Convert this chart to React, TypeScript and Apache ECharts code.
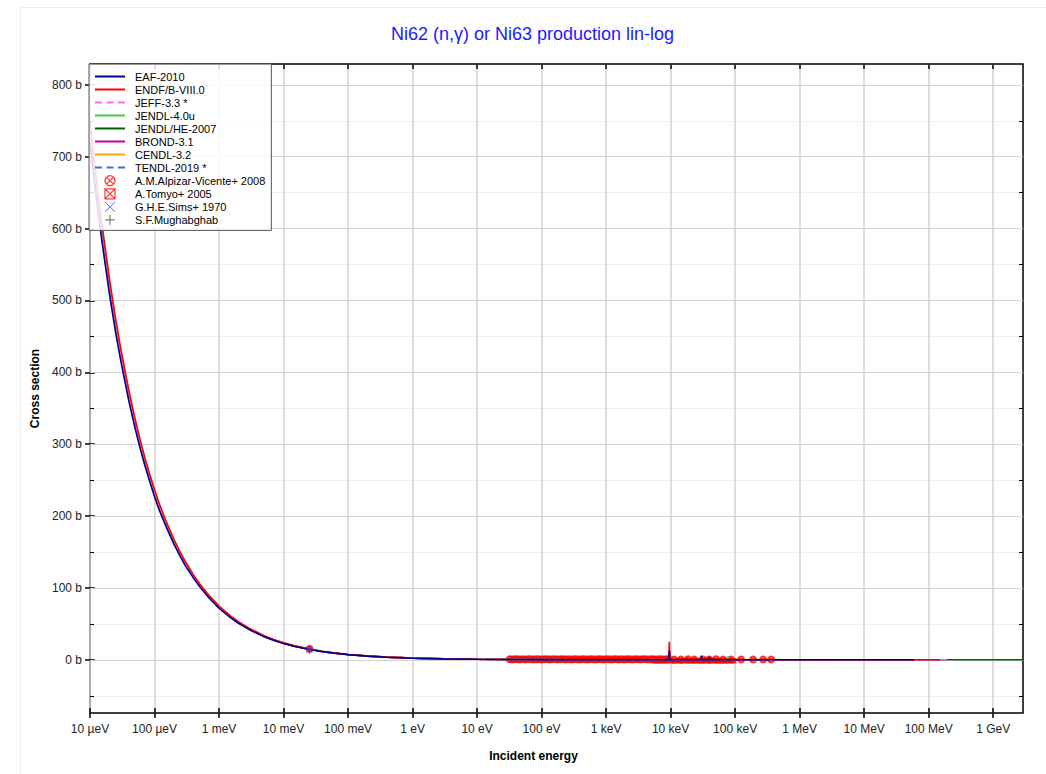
import React, { useEffect, useRef } from "react";
import * as echarts from "echarts";

const FONT = "'Liberation Sans', Arial, Helvetica, sans-serif";

// Axes
const X_MIN = 1e-5;
const X_MAX = 2.9e9;
const Y_MIN = -74;
const Y_MAX = 829;
const X_TICKS = [1e-5, 1e-4, 1e-3, 1e-2, 1e-1, 1, 10, 100, 1e3, 1e4, 1e5, 1e6, 1e7, 1e8, 1e9];
const X_TICK_LABELS = ["10 µeV", "100 µeV", "1 meV", "10 meV", "100 meV", "1 eV", "10 eV", "100 eV", "1 keV", "10 keV", "100 keV", "1 MeV", "10 MeV", "100 MeV", "1 GeV"];
const Y_TICKS = [0, 100, 200, 300, 400, 500, 600, 700, 800];
const Y_MINOR = [-50, 50, 150, 250, 350, 450, 550, 650, 750];

// Evaluated curves: low-energy part (shared energy grid, eV)
const LOW_E = [1e-5, 1.2e-5, 1.5e-5, 2e-5, 2.5e-5, 3e-5, 4e-5, 5e-5, 6e-5, 7e-5, 8.5e-5, 1e-4, 1.2e-4, 1.5e-4, 2e-4, 2.5e-4, 3e-4, 4e-4, 5e-4, 7e-4, 1e-3, 1.5e-3, 2e-3, 3e-3, 5e-3, 7e-3, 1e-2, 1.5e-2, 2.53e-2, 4e-2, 6e-2, 0.1, 0.2, 0.4, 1, 3, 10, 30, 100, 300, 1000, 3000];
const EAF_LOW = [719, 657, 588, 509, 455, 416, 360, 322, 294, 272, 247, 227, 207, 186, 161, 144, 131, 114, 102, 86, 72, 58.8, 50.9, 41.6, 32.2, 27.2, 22.8, 18.6, 14.3, 11.4, 9.3, 7.2, 5.1, 3.6, 2.28, 1.32, 0.72, 0.41, 0.25, 0.15, 0.12, 0.15];
const ENDF_LOW = [749, 684, 612, 530, 474, 433, 375, 335, 306, 283, 257, 237, 216, 193.5, 167.6, 150, 136.8, 118.5, 106, 89.6, 74.9, 61.2, 53, 43.3, 33.5, 28.3, 23.7, 19.4, 14.9, 11.85, 9.68, 7.5, 5.3, 3.75, 2.37, 1.37, 0.75, 0.43, 0.3, 0.2, 0.15, 0.2];
const OTHER_LOW = [734, 670, 600, 519, 465, 424, 368, 328, 300, 277, 252, 232, 212, 190, 164, 147, 134, 116, 104, 88, 73.4, 60, 52, 42.4, 32.8, 27.7, 23.2, 19, 14.6, 11.6, 9.5, 7.35, 5.2, 3.7, 2.32, 1.34, 0.73, 0.42, 0.28, 0.18, 0.14, 0.18];

// Resonance region and high-energy tails
const EAF_HI_E = [9400, 9550, 9700, 20000, 29500, 30000, 30500, 39500, 40000, 40500, 1e5, 1e6, 1e7, 6e7];
const EAF_HI_V = [0.3, 13, 0.2, 0.1, 0.1, 6, 0.1, 0.1, 4, 0.1, 0.03, 0.01, 0.005, 0.002];
const ENDF_HI_E = [9400, 9550, 9700, 17800, 18000, 18200, 34600, 35000, 35400, 52000, 1e5, 1e6, 1e7, 1.5e8];
const ENDF_HI_V = [0.3, 25, 0.2, 0.1, 4, 0.1, 0.1, 3, 0.1, 0.05, 0.03, 0.01, 0.005, 0.002];
const JENDL4_HI_E = [9400, 9550, 9700, 76000, 77000, 78000, 1e5, 1e6, 2e7];
const JENDL4_HI_V = [0.3, 12, 0.2, 0.05, 5, 0.05, 0.03, 0.01, 0.005];
const OTHER_HI_E = [9400, 9550, 9700, 1e5, 1e6, 1e7];
const OTHER_HI_V = [0.3, 12, 0.2, 0.03, 0.01, 0.005];
const JEFF_END = [2e8, 0.002];
const JENDLHE_END = [2.9e9, 0.001];
const BROND_END = [2e7, 0.004];
const CENDL_END = [2e7, 0.004];
const TENDL_END = [2e8, 0.002];

// Experimental data
const ALPIZAR_E = [0.0253, 32, 35, 38.5, 42, 46, 51, 56, 62, 68, 75, 82, 90, 100, 110, 121, 133, 146, 161, 177, 195, 214, 236, 259, 285, 314, 345, 380, 418, 459, 505, 556, 611, 673, 740, 814, 895, 985, 1083, 1192, 1311, 1442, 1586, 1745, 1919, 2111, 2323, 2555, 2810, 3091, 3400, 3740, 4114, 4526, 4979, 5476, 6024, 6626, 7289, 8018, 8820, 9300, 11300, 14500, 18600, 23100, 31800, 39500, 50700, 65100, 86700, 124000, 190000, 272000, 362000];
const ALPIZAR_V = [15.2, 0.8, 0.6, 0.7, 0.9, 0.6, 0.7, 0.5, 0.8, 0.7, 0.6, 0.9, 0.7, 0.6, 0.8, 0.7, 0.5, 0.7, 0.9, 0.6, 0.7, 0.8, 0.6, 0.7, 0.5, 0.8, 0.7, 0.6, 0.9, 0.7, 0.6, 0.8, 0.7, 0.5, 0.7, 0.8, 0.6, 0.7, 0.9, 0.6, 0.7, 0.8, 0.6, 0.7, 0.5, 0.8, 0.7, 0.6, 0.8, 0.7, 0.6, 0.7, 0.8, 0.6, 0.7, 0.9, 0.6, 0.7, 0.8, 0.6, 0.7, 0.8, 0.6, 0.5, 0.7, 0.6, 0.5, 0.6, 0.7, 0.5, 0.6, 0.5, 0.4, 0.4, 0.4];
const TOMYO_E = [5500, 6000, 6600, 7200, 7900, 8700, 10500, 11500, 12600, 13800, 15100, 16600, 18200, 20000, 22000, 24000, 26300, 28800, 31600, 34700, 38000, 41700, 45700, 50100, 55000, 60300, 66100, 72400, 79400, 87100, 95500];
const TOMYO_V = [-1.2, -1.0, -1.3, -1.1, -1.0, -1.2, -1.1, -1.3, -1.0, -1.2, -1.1, -1.0, -1.2, -1.3, -1.1, -1.0, -1.2, -1.1, -1.3, -1.0, -1.2, -1.1, -1.0, -1.2, -1.1, -1.3, -1.0, -1.2, -1.1, -1.0, -1.2];
const SIMS_E = [0.0253];
const SIMS_V = [14.5];
const MUGHABGHAB_E = [0.0253];
const MUGHABGHAB_V = [14.6];

const SYM_CIRCLE_X = "path://M10,0A10,10,0,1,1,9.99,0ZM2.93,2.93L17.07,17.07M17.07,2.93L2.93,17.07";
const SYM_BOX_X = "path://M0,0H20V20H0ZM0,0L20,20M20,0L0,20";
const SYM_X = "path://M0,0L20,20M20,0L0,20";
const SYM_PLUS = "path://M10,0V20M0,10H20";
const ICON_SOLID = "path://M0,0H30V2H0Z";
const ICON_DASHED = "path://M0,0H7V2H0ZM11.5,0H18.5V2H11.5ZM23,0H30V2H23Z";

const zip = (e: number[], v: number[]) => e.map((x, i) => [x, v[i]]);

export default function App() {
  const ref = useRef<HTMLDivElement>(null);

  useEffect(() => {
    if (!ref.current) return;
    const chart = echarts.init(ref.current, undefined, { renderer: "svg" });

    const lineSeries = (name: string, color: string, data: number[][], z: number, dashed = false) => ({
      name,
      type: "line",
      data,
      z,
      symbol: "none",
      showSymbol: false,
      silent: true,
      lineStyle: { color, width: 1.6, type: dashed ? "dashed" : "solid" },
      itemStyle: { color },
    });

    const scatterSeries = (name: string, color: string, symbol: string, size: number, data: number[][], z: number, bw = 1.2) => ({
      name,
      type: "scatter",
      data,
      z,
      symbol,
      symbolSize: size,
      silent: true,
      itemStyle: { color: "transparent", borderColor: color, borderWidth: bw },
    });

    const otherData = (end: number[]) => [...zip(LOW_E, OTHER_LOW), ...zip(OTHER_HI_E, OTHER_HI_V), end];

    const series = [
      scatterSeries("A.M.Alpizar-Vicente+ 2008", "#ff0000", SYM_CIRCLE_X, 6, zip(ALPIZAR_E, ALPIZAR_V), 2, 2),
      scatterSeries("A.Tomyo+ 2005", "#ff0000", SYM_BOX_X, 4, zip(TOMYO_E, TOMYO_V), 2, 1.6),
      lineSeries("JENDL/HE-2007", "#006400", otherData(JENDLHE_END), 3),
      lineSeries("CENDL-3.2", "#ffa500", otherData(CENDL_END), 3),
      lineSeries("BROND-3.1", "#c000a0", otherData(BROND_END), 3),
      lineSeries("JENDL-4.0u", "#44cc44", [...zip(LOW_E, OTHER_LOW), ...zip(JENDL4_HI_E, JENDL4_HI_V)], 3),
      lineSeries("TENDL-2019 *", "#4169e1", otherData(TENDL_END), 3, true),
      lineSeries("JEFF-3.3 *", "#ff66ff", otherData(JEFF_END), 3, true),
      lineSeries("ENDF/B-VIII.0", "#ff0000", [...zip(LOW_E, ENDF_LOW), ...zip(ENDF_HI_E, ENDF_HI_V)], 4),
      lineSeries("EAF-2010", "#00008b", [...zip(LOW_E, EAF_LOW), ...zip(EAF_HI_E, EAF_HI_V)], 5),
      scatterSeries("G.H.E.Sims+ 1970", "#3344ff", SYM_X, 6, zip(SIMS_E, SIMS_V), 6),
      scatterSeries("S.F.Mughabghab", "#444444", SYM_PLUS, 9, zip(MUGHABGHAB_E, MUGHABGHAB_V), 6),
    ];

    const lineIcon = (name: string, color: string, dashed = false) => ({
      name,
      icon: dashed ? ICON_DASHED : ICON_SOLID,
      itemStyle: { color, borderWidth: 0 },
    });
    const markIcon = (name: string, icon: string, color: string, bw: number) => ({
      name,
      icon,
      itemStyle: { color: "transparent", borderColor: color, borderWidth: bw },
    });

    const legendData = [
      lineIcon("EAF-2010", "#00008b"),
      lineIcon("ENDF/B-VIII.0", "#ff0000"),
      lineIcon("JEFF-3.3 *", "#ff66ff", true),
      lineIcon("JENDL-4.0u", "#44cc44"),
      lineIcon("JENDL/HE-2007", "#006400"),
      lineIcon("BROND-3.1", "#c000a0"),
      lineIcon("CENDL-3.2", "#ffa500"),
      lineIcon("TENDL-2019 *", "#4169e1", true),
      markIcon("A.M.Alpizar-Vicente+ 2008", SYM_CIRCLE_X, "#ff0000", 1.2),
      markIcon("A.Tomyo+ 2005", SYM_BOX_X, "#ff0000", 1.2),
      markIcon("G.H.E.Sims+ 1970", SYM_X, "#3344ff", 1),
      markIcon("S.F.Mughabghab", SYM_PLUS, "#444444", 1),
    ];

    const xLabel = (v: number) => {
      const i = X_TICKS.findIndex((t) => Math.abs(Math.log10(t) - Math.log10(v)) < 1e-6);
      return i >= 0 ? X_TICK_LABELS[i] : "";
    };

    const baseX = {
      type: "log",
      logBase: 10,
      min: X_MIN,
      max: X_MAX,
      axisLine: { show: false, onZero: false },
      axisLabel: { show: false },
      splitLine: { show: false },
      minorTick: { show: false },
      minorSplitLine: { show: false },
    };
    const baseY = {
      type: "value",
      min: Y_MIN,
      max: Y_MAX,
      axisLine: { show: false, onZero: false },
      axisLabel: { show: false },
      splitLine: { show: false },
      minorTick: { show: false },
    };

    const option: any = {
      animation: false,
      textStyle: { fontFamily: FONT },
      title: {
        text: "Ni62 (n,γ) or Ni63 production lin-log",
        left: 391,
        top: 25,
        padding: 0,
        textStyle: { color: "#1a1aff", fontSize: 18, fontWeight: "normal", fontFamily: FONT },
      },
      graphic: [
        {
          type: "rect",
          left: 18,
          top: 5,
          shape: { width: 1100, height: 900 },
          style: { fill: "none", stroke: "#ececec", lineWidth: 1 },
          silent: true,
          z: -10,
        },
      ],
      grid: {
        left: 90,
        top: 64,
        right: 23,
        bottom: 61,
        show: true,
        borderColor: "#000",
        borderWidth: 1.5,
        backgroundColor: "transparent",
      },
      legend: {
        orient: "vertical",
        left: 89,
        top: 64,
        padding: [7, 6, 5, 6],
        itemGap: 2,
        itemWidth: 30,
        itemHeight: 10,
        backgroundColor: "rgba(255,255,255,0.85)",
        borderColor: "#555",
        borderWidth: 1,
        z: 10,
        selectedMode: false,
        textStyle: { fontSize: 11, color: "#000", fontFamily: FONT, padding: [0, 0, 0, 5] },
        data: legendData,
      },
      xAxis: [
        {
          ...baseX,
          position: "bottom",
          name: "Incident energy",
          nameLocation: "middle",
          nameGap: 37,
          nameTextStyle: { fontWeight: "bold", fontSize: 12, color: "#000", fontFamily: FONT, padding: [0, 46, 0, 0] },
          axisLabel: { show: true, customValues: X_TICKS, formatter: xLabel, fontSize: 12, color: "#222", margin: 10, fontFamily: FONT, showMinLabel: true, showMaxLabel: true },
          axisTick: { show: true, customValues: X_TICKS, inside: false, length: 5, lineStyle: { color: "#000", width: 1.5 } },
          splitLine: { show: true, lineStyle: { color: "#d2d2d2", width: 1.5 } },
        },
        {
          ...baseX,
          position: "bottom",
          axisTick: { show: true, customValues: X_TICKS, inside: true, length: 5, lineStyle: { color: "#000", width: 1.5 } },
        },
        {
          ...baseX,
          position: "top",
          axisTick: { show: true, customValues: X_TICKS, inside: true, length: 5, lineStyle: { color: "#000", width: 1.5 } },
        },
      ],
      yAxis: [
        {
          ...baseY,
          position: "left",
          z: 1,
          name: "Cross section",
          nameLocation: "middle",
          nameGap: 46,
          nameTextStyle: { fontWeight: "bold", fontSize: 12, color: "#000", fontFamily: FONT },
          axisLabel: { show: true, customValues: Y_TICKS, formatter: (v: number) => `${v} b`, fontSize: 12, color: "#222", margin: 8, fontFamily: FONT },
          axisTick: { show: true, customValues: Y_TICKS, inside: false, length: 5, lineStyle: { color: "#000", width: 1.5 } },
          splitLine: { show: true, lineStyle: { color: "#d2d2d2", width: 1 } },
        },
        {
          ...baseY,
          position: "left",
          axisTick: { show: true, customValues: Y_TICKS, inside: true, length: 5, lineStyle: { color: "#000", width: 1.5 } },
        },
        {
          ...baseY,
          position: "left",
          z: 0,
          axisTick: { show: true, customValues: Y_MINOR, inside: true, length: 4, lineStyle: { color: "#000", width: 1 } },
          splitLine: { show: true, lineStyle: { color: "#efefef", width: 1 } },
        },
        {
          ...baseY,
          position: "right",
          axisTick: { show: true, customValues: [...Y_TICKS, ...Y_MINOR], inside: true, length: 4, lineStyle: { color: "#000", width: 1 } },
        },
      ],
      series,
    };

    chart.setOption(option);
    return () => chart.dispose();
  }, []);

  return (
    <div
      ref={ref}
      style={{ position: "fixed", left: 0, top: 0, width: 1046, height: 774, background: "#fff" }}
    />
  );
}
